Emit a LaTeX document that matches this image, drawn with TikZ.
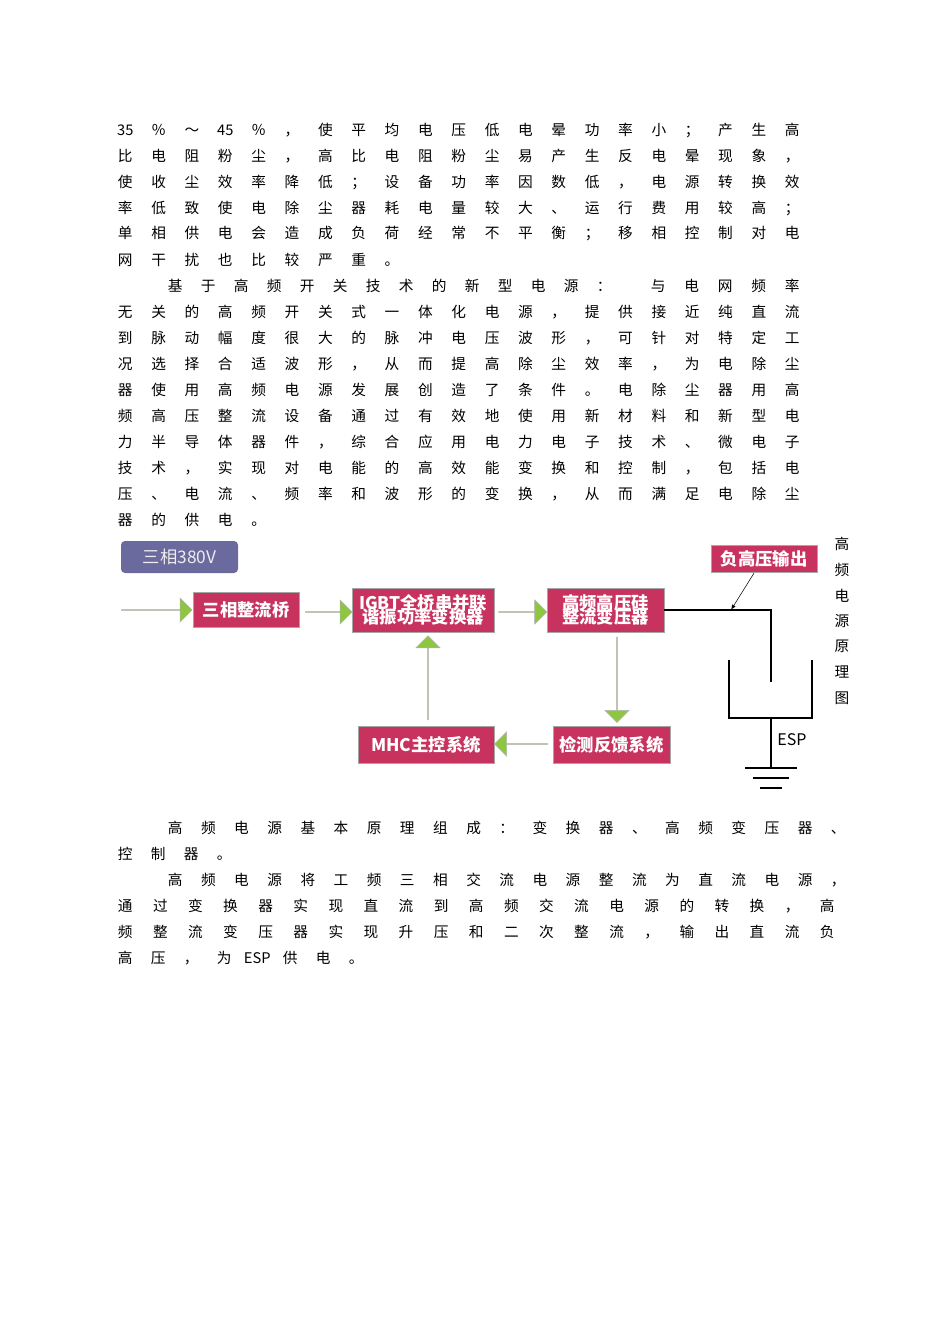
\documentclass[tikz,border=0pt]{standalone}
\usepackage{fontspec}
\setmainfont{Noto Sans CJK SC}
\newfontfamily\cjkb{Noto Sans CJK SC}
\usetikzlibrary{shapes.arrows}
\newlength\tpitch
\def\spstop{\spstop}
\def\tks#1{\ifx#1\spstop\else\makebox[\tpitch]{#1}\expandafter\tks\fi}
% \tline{x of first centre}{pitch px}{y}{name}{tokens}
\newcommand\tline[5]{\setlength\tpitch{#2pt}\setlength\tpitch{0.75\tpitch}%
  \node[anchor=west,inner sep=0pt,font=\fontsize{11}{12}\selectfont] (#4) at ({#1-#2/2},#3) {\tks#5\spstop};}
\definecolor{boxred}{HTML}{C8325F}
\definecolor{boxpurple}{HTML}{6A6A9E}
\definecolor{agreen}{HTML}{8DC63F}
\tikzset{
  redbox/.style={draw=gray!70,fill=boxred,text=white,font=\cjkb\fontsize{13}{14}\selectfont\bfseries,inner sep=1pt,align=center},
  garrow/.style={single arrow,draw=gray!60,fill=agreen,minimum width=18pt,single arrow head extend=5pt,single arrow head indent=0pt,inner sep=0pt,shape border uses incircle=false},
}
\begin{document}
\begin{tikzpicture}[x=0.75pt,y=-0.75pt]
\useasboundingbox (0,0) rectangle (950,1344);
\fill[white] (0,0) rectangle (950,1344);
% top paragraph
\tline{125}{33.35}{130}{l1}{{35}％～{45}％，使平均电压低电晕功率小；产生高}
\tline{125}{33.35}{156}{l2}{比电阻粉尘，高比电阻粉尘易产生反电晕现象，}
\tline{125}{33.35}{182}{l3}{使收尘效率降低；设备功率因数低，电源转换效}
\tline{125}{33.35}{208}{l4}{率低致使电除尘器耗电量较大、运行费用较高；}
\tline{125}{33.35}{234}{l5}{单相供电会造成负荷经常不平衡；移相控制对电}
\tline{125}{33.35}{260}{l6}{网干扰也比较严重。}
\tline{175}{33.0}{286}{l7a}{基于高频开关技术的新型电源：}
\tline{658}{33.5}{286}{l7b}{与电网频率}
\tline{125}{33.35}{312}{l8}{无关的高频开关式一体化电源，提供接近纯直流}
\tline{125}{33.35}{338}{l9}{到脉动幅度很大的脉冲电压波形，可针对特定工}
\tline{125}{33.35}{364}{l10}{况选择合适波形，从而提高除尘效率，为电除尘}
\tline{125}{33.35}{390}{l11}{器使用高频电源发展创造了条件。电除尘器用高}
\tline{125}{33.35}{416}{l12}{频高压整流设备通过有效地使用新材料和新型电}
\tline{125}{33.35}{442}{l13}{力半导体器件，综合应用电力电子技术、微电子}
\tline{125}{33.35}{468}{l14}{技术，实现对电能的高效能变换和控制，包括电}
\tline{125}{33.35}{494}{l15}{压、电流、频率和波形的变换，从而满足电除尘}
\tline{125}{33.35}{520}{l16}{器的供电。}
% bottom paragraph
\tline{175}{33.15}{828}{b1}{高频电源基本原理组成：变换器、高频变压器、}
\tline{125}{33.0}{854}{b2}{控制器。}
\tline{175}{33.15}{880}{b3}{高频电源将工频三相交流电源整流为直流电源，}
\tline{125}{35.1}{906}{b4}{通过变换器实现直流到高频交流电源的转换，高}
\tline{125}{35.1}{932}{b5}{频整流变压器实现升压和二次整流，输出直流负}
\tline{125}{33.0}{958}{b6}{高压，为{ESP}供电。}
% diagram
\node[fill=boxpurple,rounded corners=3pt,text=white!85!gray,font=\cjkb\fontsize{13}{14}\selectfont,minimum width=87.75pt,minimum height=24pt,inner sep=0pt] (v380) at (179.5,557) {三相380V};
\node[redbox,minimum width=79.5pt,minimum height=26pt] (rect) at (246,609.5) {三相整流桥};
\node[redbox,minimum width=106.5pt,minimum height=33pt] (igbt) at (423,610) {IGBT全桥串并联\\[-3pt]谐振功率变换器};
\node[redbox,minimum width=87.75pt,minimum height=33pt] (hv) at (605.5,610) {高频高压硅\\[-3pt]整流变压器};
\node[redbox,minimum width=87.75pt,minimum height=28pt] (det) at (611.5,744.5) {检测反馈系统};
\node[redbox,minimum width=102pt,minimum height=28pt] (mhc) at (426,744.5) {MHC主控系统};
\node[redbox,minimum width=79.5pt,minimum height=20pt] (neg) at (764,558.5) {负高压输出};
% green arrows
\node[garrow,minimum height=53pt] (a1) at (156.5,610) {};
\node[garrow,minimum height=35pt] (a2) at (328.5,612) {};
\node[garrow,minimum height=36pt] (a3) at (522.5,612) {};
\node[garrow,minimum height=64pt,rotate=-90] (a4) at (617,679.5) {};
\node[garrow,minimum height=40pt,rotate=180] (a5) at (521.5,744) {};
\node[garrow,minimum height=63pt,rotate=90] (a6) at (428,678) {};
% ESP
\coordinate (c1) at (771,610);
\coordinate (c2) at (771,682);
\coordinate (pa) at (731,610);
\draw[thick] (hv.east |- c1) -- (c1) -- (c2);
\draw[thick] (729,660) -- (729,718) -- (812,718) -- (812,660);
\coordinate (g0) at (771,718);
\coordinate (g1) at (771,768);
\draw[thick] (g0) -- (g1);
\draw[thick] (745,768) -- (797,768) (753,778) -- (789,778) (760,788) -- (782,788);
\node[font=\fontsize{12}{13}\selectfont] (esp) at (792,740) {ESP};
\draw[-latex] (neg.south) ++(-10,1) coordinate (n0) -- (pa);
% vertical title
\foreach \c [count=\i from 0] in {高,频,电,源,原,理,图}
  \node[font=\fontsize{11}{12}\selectfont,inner sep=0pt] (t\i) at (842,{544+\i*25.7}) {\c};
\end{tikzpicture}
\end{document}
